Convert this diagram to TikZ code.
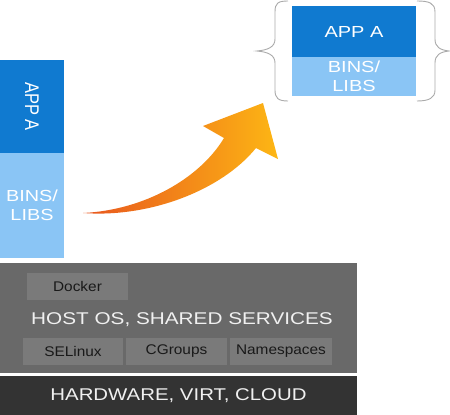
\documentclass[tikz,border=0pt]{standalone}
\usepackage{fontspec}
\setmainfont{Liberation Sans}
\usepackage{graphicx}
\definecolor{appblue}{RGB}{16,122,208}
\definecolor{libblue}{RGB}{138,197,245}
\definecolor{hostgray}{RGB}{105,105,105}
\definecolor{subgray}{RGB}{122,122,122}
\definecolor{hwgray}{RGB}{51,51,51}
\definecolor{arrowred}{RGB}{232,86,30}
\definecolor{arrowyel}{RGB}{253,182,20}
\definecolor{bracegray}{RGB}{170,170,170}
\definecolor{lighttext}{RGB}{240,240,240}
\newcommand{\wx}[2]{\scalebox{#1}[1]{#2}}
\begin{document}
\begin{tikzpicture}[x=1pt,y=-1pt,
  box/.style={draw=none,inner sep=0pt,outer sep=0pt,anchor=north west},
  bluetext/.style={text=white,font=\fontsize{16}{18.5}\selectfont,align=center},
  subbox/.style={box,fill=subgray,minimum height=27pt,text=black!90,font=\fontsize{14}{16}\selectfont},
  bigtext/.style={text=lighttext,font=\fontsize{17}{20}\selectfont},
  bracestyle/.style={draw=bracegray,line width=0.9pt}]
\useasboundingbox (0,0) rectangle (450,415);
% left stack
\node[box,bluetext,fill=appblue,minimum width=64pt,minimum height=93pt] (appL) at (0,60)
  {\wx{1.2}{\rotatebox{-90}{\fontsize{16.5}{18}\selectfont APP A}}};
\node[box,bluetext,fill=libblue,minimum width=64pt,minimum height=105pt] (libL) at (0,153)
  {\wx{1.24}{BINS/}\\\wx{1.24}{LIBS}};
% right stack
\node[box,bluetext,fill=appblue,minimum width=124pt,minimum height=51pt] (appR) at (292,6)
  {\wx{1.25}{APP A}};
\node[box,bluetext,fill=libblue,minimum width=124pt,minimum height=39pt] (libR) at (292,57)
  {\wx{1.25}{BINS/}\\\wx{1.25}{LIBS}};
% host
\node[box,fill=hostgray,minimum width=357pt,minimum height=110pt] (host) at (0,263) {};
\node[box,fill=hwgray,minimum width=357pt,minimum height=39pt,bigtext] (hw) at (0,376)
  {\wx{1.2}{HARDWARE, VIRT, CLOUD}};
\node[subbox,minimum width=101pt] (docker) at (27,273) {\wx{1.1}{Docker}};
\node[bigtext] (hosttext) at (182,320) {\wx{1.22}{HOST OS, SHARED SERVICES}};
\node[subbox,minimum width=100pt] (selinux) at (23,338) {\wx{1.1}{SELinux}};
\node[subbox,minimum width=101pt] (cgroups) at (126,338) {\wx{1.1}{CGroups}};
\node[subbox,minimum width=102pt] (ns) at (230,338) {\wx{1.1}{Namespaces}};
% arrow
\shade[left color=arrowred,right color=arrowyel]
  (83,213) .. controls (145,210) and (200,178) .. (224,138) -- (203,126) -- (263,103)
  -- (278,159) -- (256,148) .. controls (222,190) and (150,218) .. (83,213) -- cycle;
% braces
\draw[bracestyle] (288,1) .. controls (278,1) and (275,3) .. (275,12) -- (275,39)
  .. controls (275,47) and (268,50) .. (257,51) .. controls (268,52) and (275,55) .. (275,63)
  -- (275,90) .. controls (275,98) and (278,101) .. (288,101);
\draw[bracestyle] (417,1) .. controls (429,1) and (435,3) .. (435,12) -- (435,39)
  .. controls (435,47) and (440,50) .. (449,51) .. controls (440,52) and (435,55) .. (435,63)
  -- (435,90) .. controls (435,98) and (429,101) .. (417,101);
\end{tikzpicture}
\end{document}
